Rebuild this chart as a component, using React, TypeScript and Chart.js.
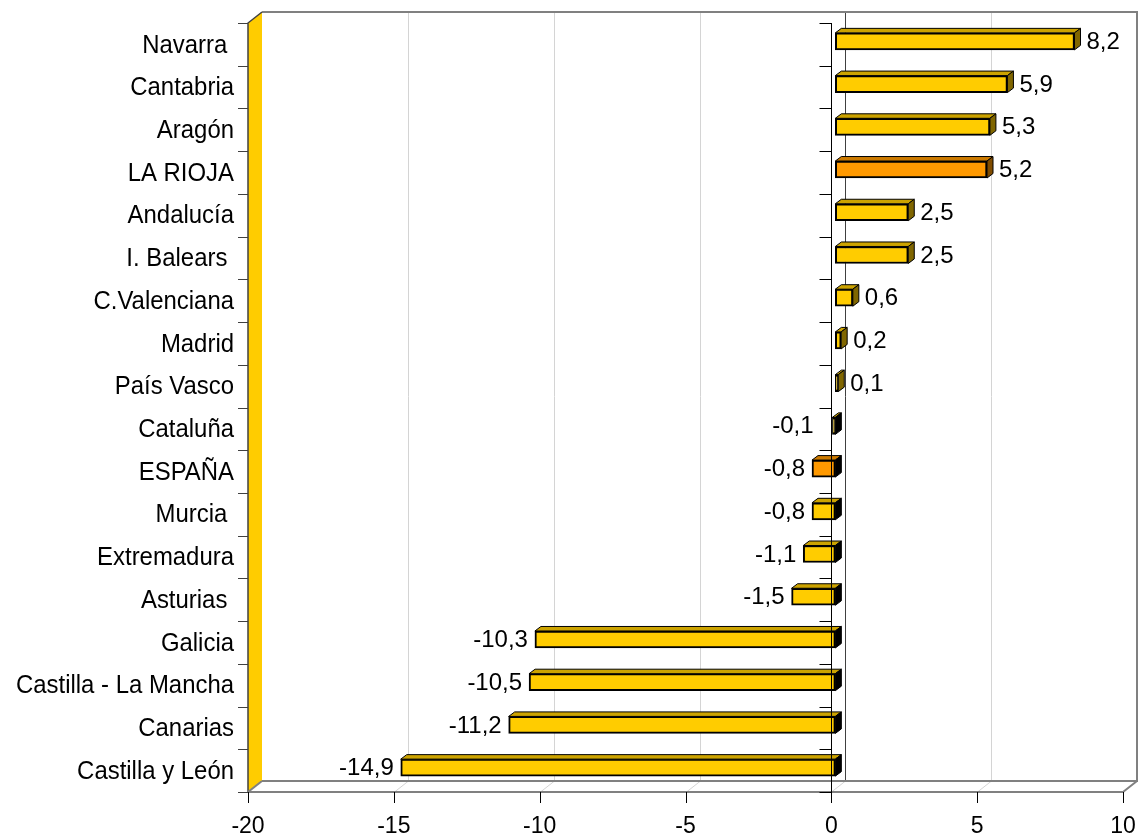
import React, { useEffect, useRef } from "react";
import { Chart, registerables } from "chart.js";

Chart.register(...registerables);

const categories = [
  "Navarra ",
  "Cantabria",
  "Aragón",
  "LA RIOJA",
  "Andalucía",
  "I. Balears ",
  "C.Valenciana",
  "Madrid",
  "País Vasco",
  "Cataluña",
  "ESPAÑA",
  "Murcia ",
  "Extremadura",
  "Asturias ",
  "Galicia",
  "Castilla - La Mancha",
  "Canarias",
  "Castilla y León",
];
const values = [8.2, 5.9, 5.3, 5.2, 2.5, 2.5, 0.6, 0.2, 0.1, -0.1, -0.8, -0.8, -1.1, -1.5, -10.3, -10.5, -11.2, -14.9];
const highlighted = ["LA RIOJA", "ESPAÑA"];
const xTicks = [-20, -15, -10, -5, 0, 5, 10];

const YELLOW = "#FFCC00";
const YELLOW_TOP = "#CCA300";
const YELLOW_SIDE = "#806600";
const ORANGE = "#FF9900";
const ORANGE_TOP = "#CC7A00";
const ORANGE_SIDE = "#804C00";
const FONT = "'Liberation Sans', Arial, sans-serif";

const WALL_DX = 14;
const WALL_DY = -11;
const BAR_SHIFT_X = 4;
const BAR_SHIFT_Y = -3;
const BAR_DX = 6;
const BAR_DY = -4.5;

function line(ctx: CanvasRenderingContext2D, x1: number, y1: number, x2: number, y2: number, color: string, w: number) {
  ctx.beginPath();
  ctx.strokeStyle = color;
  ctx.lineWidth = w;
  ctx.moveTo(x1, y1);
  ctx.lineTo(x2, y2);
  ctx.stroke();
}

const threeD = {
  id: "threeD",
  beforeDatasetsDraw(chart: any) {
    const { ctx, chartArea, scales } = chart;
    const { left, right, top, bottom } = chartArea;
    const x = scales.x;
    const y = scales.y;
    ctx.save();
    // back wall gridlines + floor diagonals
    for (const v of xTicks) {
      if (v === -20 || v === 10) continue;
      const px = Math.round(x.getPixelForValue(v)) + 0.5;
      if (v !== 0) line(ctx, px + WALL_DX, top + WALL_DY, px + WALL_DX, bottom + WALL_DY, "#D4D4D4", 1);
      line(ctx, px, bottom, px + WALL_DX, bottom + WALL_DY, "#D4D4D4", 1);
    }
    const z = Math.round(x.getPixelForValue(0)) + 0.5;
    line(ctx, z + WALL_DX, top + WALL_DY, z + WALL_DX, bottom + WALL_DY, "#404040", 1);
    // back wall edges
    ctx.beginPath();
    ctx.strokeStyle = "#808080";
    ctx.lineWidth = 2;
    ctx.moveTo(left + WALL_DX, top + WALL_DY);
    ctx.lineTo(right + WALL_DX, top + WALL_DY);
    ctx.lineTo(right + WALL_DX, bottom + WALL_DY);
    ctx.lineTo(left + WALL_DX, bottom + WALL_DY);
    ctx.stroke();
    // floor front edge and right diagonal
    ctx.beginPath();
    ctx.moveTo(left, bottom);
    ctx.lineTo(right, bottom);
    ctx.lineTo(right + WALL_DX, bottom + WALL_DY);
    ctx.stroke();
    // side wall
    ctx.beginPath();
    ctx.fillStyle = YELLOW;
    ctx.moveTo(left, top);
    ctx.lineTo(left + WALL_DX, top + WALL_DY);
    ctx.lineTo(left + WALL_DX, bottom + WALL_DY);
    ctx.lineTo(left, bottom);
    ctx.closePath();
    ctx.fill();
    ctx.beginPath();
    ctx.strokeStyle = "#404040";
    ctx.lineWidth = 1.5;
    ctx.moveTo(left, bottom);
    ctx.lineTo(left, top);
    ctx.lineTo(left + WALL_DX, top + WALL_DY);
    ctx.stroke();
    line(ctx, left, bottom, left + WALL_DX, bottom + WALL_DY, "#808080", 2);
    // left category ticks
    const n = categories.length;
    const step = (bottom - top) / n;
    for (let i = 0; i <= n; i++) {
      const yy = Math.round(top + i * step) + 0.5;
      line(ctx, left - 10, yy, left, yy, "#404040", 1);
    }
    // x tick marks
    for (const v of xTicks) {
      const px = Math.round(x.getPixelForValue(v)) + 0.5;
      line(ctx, px, bottom, px, bottom + 11, "#000000", 1);
    }
    // category labels (slightly condensed, as in the original)
    ctx.font = `26px ${FONT}`;
    ctx.fillStyle = "#000000";
    ctx.textAlign = "right";
    ctx.textBaseline = "middle";
    categories.forEach((c, i) => {
      const yy = y.getPixelForValue(i);
      ctx.save();
      ctx.translate(left - 14, yy + 1);
      ctx.scale(0.92, 1);
      ctx.fillText(c, 0, 0);
      ctx.restore();
    });
    ctx.restore();
  },
  beforeDatasetDraw(chart: any) {
    chart.ctx.save();
    chart.ctx.translate(BAR_SHIFT_X, BAR_SHIFT_Y);
  },
  afterDatasetDraw(chart: any) {
    const ctx = chart.ctx;
    const meta = chart.getDatasetMeta(0);
    meta.data.forEach((bar: any, i: number) => {
      const p = bar.getProps(["x", "y", "base", "height"], true);
      const l = Math.min(p.x, p.base);
      const r = Math.max(p.x, p.base);
      const t = p.y - p.height / 2;
      const b = p.y + p.height / 2;
      const hi = highlighted.includes(categories[i]);
      const topC = hi ? ORANGE_TOP : YELLOW_TOP;
      const sideC = values[i] < 0 ? "#000000" : hi ? ORANGE_SIDE : YELLOW_SIDE;
      ctx.lineWidth = 1;
      ctx.strokeStyle = "#000000";
      ctx.lineJoin = "round";
      ctx.beginPath();
      ctx.moveTo(l, t);
      ctx.lineTo(l + BAR_DX, t + BAR_DY);
      ctx.lineTo(r + BAR_DX, t + BAR_DY);
      ctx.lineTo(r, t);
      ctx.closePath();
      ctx.fillStyle = topC;
      ctx.fill();
      ctx.stroke();
      ctx.beginPath();
      ctx.moveTo(r, t);
      ctx.lineTo(r + BAR_DX, t + BAR_DY);
      ctx.lineTo(r + BAR_DX, b + BAR_DY);
      ctx.lineTo(r, b);
      ctx.closePath();
      ctx.fillStyle = sideC;
      ctx.fill();
      ctx.stroke();
    });
    ctx.restore();
  },
  afterDatasetsDraw(chart: any) {
    const { ctx, chartArea, scales } = chart;
    const { top, bottom } = chartArea;
    const x = scales.x;
    const z = Math.round(x.getPixelForValue(0)) + 0.5;
    ctx.save();
    line(ctx, z, top, z, bottom + 11, "#000000", 1);
    const n = categories.length;
    const step = (bottom - top) / n;
    for (let i = 0; i <= n; i++) {
      const yy = Math.round(top + i * step) + 0.5;
      line(ctx, z - 12, yy, z, yy, "#000000", 1);
    }
    // data labels
    ctx.font = `24px ${FONT}`;
    ctx.fillStyle = "#000000";
    ctx.textBaseline = "middle";
    const meta = chart.getDatasetMeta(0);
    meta.data.forEach((bar: any, i: number) => {
      const p = bar.getProps(["x", "y", "base", "height"], true);
      const v = values[i];
      const txt = v.toFixed(1).replace(".", ",");
      const yy = p.y + BAR_SHIFT_Y + 1;
      if (v >= 0) {
        ctx.textAlign = "left";
        ctx.fillText(txt, p.x + BAR_SHIFT_X + 12, yy);
      } else {
        ctx.textAlign = "right";
        ctx.fillText(txt, Math.min(p.x + BAR_SHIFT_X - 7, z - 18), yy);
      }
    });
    ctx.restore();
  },
};

export default function App() {
  const ref = useRef<HTMLCanvasElement | null>(null);
  useEffect(() => {
    if (!ref.current) return;
    const colors = categories.map((c) => (highlighted.includes(c) ? ORANGE : YELLOW));
    const chart = new Chart(ref.current, {
      type: "bar",
      data: {
        labels: categories,
        datasets: [
          {
            data: values,
            backgroundColor: colors,
            borderColor: "#000000",
            borderWidth: 2,
            borderSkipped: false,
            barThickness: 17,
            clip: false as any,
          },
        ],
      },
      options: {
        indexAxis: "y",
        animation: false,
        responsive: false,
        devicePixelRatio: 1,
        layout: { padding: { top: 23, right: 16, left: 0, bottom: 0 } },
        plugins: { legend: { display: false }, tooltip: { enabled: false }, title: { display: false } },
        scales: {
          x: {
            min: -20,
            max: 10,
            afterFit: (s: any) => {
              s.height = 45;
              s.paddingLeft = 0;
              s.paddingRight = 0;
            },
            afterBuildTicks: (s: any) => {
              s.ticks = xTicks.map((v) => ({ value: v }));
            },
            grid: { display: false, drawTicks: false },
            border: { display: false },
            ticks: {
              color: "#000000",
              font: { family: FONT, size: 23 },
              padding: 21,
              maxRotation: 0,
              autoSkip: false,
            },
          },
          y: {
            afterFit: (s: any) => {
              s.width = 248;
              s.paddingTop = 0;
              s.paddingBottom = 0;
            },
            grid: { display: false, drawTicks: false },
            border: { display: false },
            ticks: { display: false },
          },
        },
      },
      plugins: [threeD],
    });
    return () => chart.destroy();
  }, []);
  return (
    <div style={{ position: "fixed", left: 0, top: 0, width: 1139, height: 837, background: "#ffffff" }}>
      <canvas ref={ref} width={1139} height={837} style={{ display: "block" }} />
    </div>
  );
}
